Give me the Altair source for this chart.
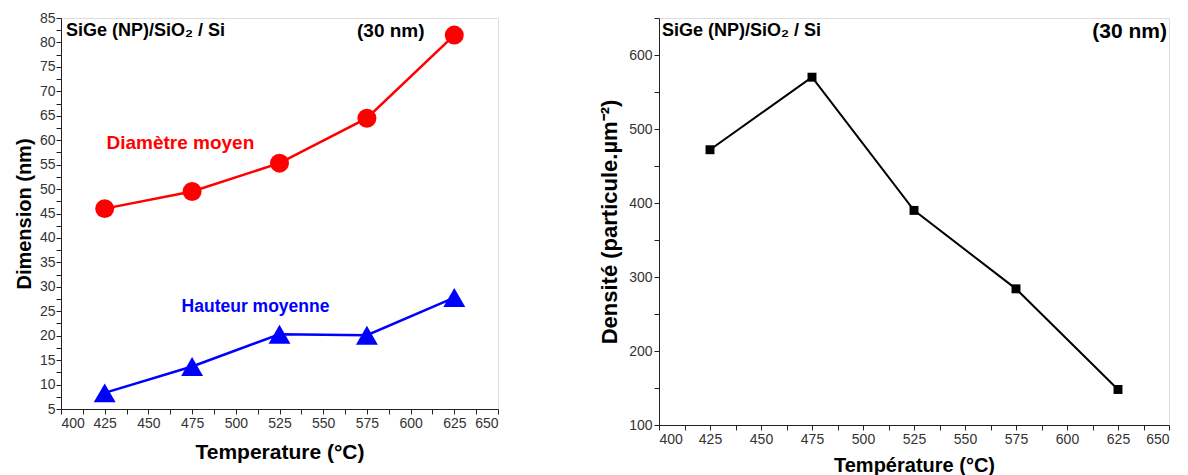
import altair as alt
import pandas as pd

temps = [425, 475, 525, 575, 625]
diametre = [46.0, 49.5, 55.3, 64.5, 81.5]
hauteur = [8.3, 13.7, 20.3, 20.1, 27.8]
densite = [472, 570, 390, 284, 148]

FONT = "Liberation Sans"

left_df = pd.DataFrame({
    "T": temps * 2,
    "v": diametre + hauteur,
    "serie": ["Diamètre moyen"] * 5 + ["Hauteur moyenne"] * 5,
})
right_df = pd.DataFrame({"T": temps, "d": densite})

xticks = [400 + 12.5 * i for i in range(21)]
ly_ticks = [5 + 2.5 * i for i in range(33)]
ry_ticks = [100 + 50 * i for i in range(12)]

def xaxis(title, tsize, tpad):
    return alt.Axis(values=xticks, labelExpr="datum.value % 25 == 0 ? datum.label : ''",
                    title=title, titleFontSize=tsize, titleFontWeight="bold",
                    titleFont=FONT, labelFont=FONT, labelFontSize=14, labelColor="#333",
                    tickSize=5, labelPadding=2, titlePadding=tpad, grid=False, labelOverlap=False,
                    domainColor="#222", tickColor="#222", titleColor="#000")

xs_left = alt.X("T:Q", scale=alt.Scale(domain=[400, 650], nice=False),
                axis=xaxis("Temperature (°C)", 21, 11))
ys_left = alt.Y("v:Q", scale=alt.Scale(domain=[5, 85], nice=False),
                axis=alt.Axis(values=ly_ticks, labelExpr="datum.value % 5 == 0 ? datum.label : ''",
                              title="Dimension (nm)", titleFontSize=20, titleFontWeight="bold",
                              titleFont=FONT, labelFont=FONT, labelFontSize=14, labelColor="#333",
                              tickSize=5, labelPadding=1, titlePadding=5, grid=False, labelOverlap=False,
                              domainColor="#222", tickColor="#222", titleColor="#000"))
dom = ["Diamètre moyen", "Hauteur moyenne"]
color = alt.Color("serie:N", scale=alt.Scale(domain=dom, range=["#ff0000", "#0000ff"]), legend=None)
shape = alt.Shape("serie:N", scale=alt.Scale(domain=dom, range=["circle", "triangle-up"]), legend=None)
size = alt.Size("serie:N", scale=alt.Scale(domain=dom, range=[360, 480]), legend=None)

base_l = alt.Chart(left_df)
l_line = base_l.mark_line(strokeWidth=2.5).encode(x=xs_left, y=ys_left, color=color, detail="serie:N")
l_pts = base_l.mark_point(filled=True, opacity=1).encode(x=xs_left, y=ys_left, color=color, shape=shape, size=size)

lab_df = pd.DataFrame({"serie": dom, "T": [426, 469], "v": [59.4, 25.9], "fs": [19, 17.5]})
l_labels = alt.Chart(lab_df).mark_text(align="left", baseline="middle", fontWeight="bold",
                                        font=FONT).encode(
    x=xs_left, y=ys_left, text="serie:N", color=color,
    size=alt.Size("fs:Q", scale=None, legend=None))

l_t1 = alt.Chart(pd.DataFrame({"t": ["SiGe (NP)/SiO₂ / Si"]})).mark_text(
    align="left", baseline="middle", fontWeight="bold", fontSize=18, font=FONT, color="#000").encode(
    x=alt.value(5), y=alt.value(13), text="t:N")
l_t2 = alt.Chart(pd.DataFrame({"t": ["(30 nm)"]})).mark_text(
    align="left", baseline="middle", fontWeight="bold", fontSize=19, font=FONT, color="#000").encode(
    x=alt.value(296), y=alt.value(13), text="t:N")

left = alt.layer(l_line, l_pts, l_labels, l_t1, l_t2).properties(width=437, height=391)

xs_right = alt.X("T:Q", scale=alt.Scale(domain=[400, 650], nice=False),
                 axis=xaxis("Température (°C)", 20, 9))
ys_right = alt.Y("d:Q", scale=alt.Scale(domain=[100, 650], nice=False),
                 axis=alt.Axis(values=ry_ticks, labelExpr="datum.value % 100 == 0 ? datum.label : ''",
                               title="Densité (particule.µm⁻²)", titleFontSize=22, titleFontWeight="bold",
                               titleFont=FONT, labelFont=FONT, labelFontSize=14, labelColor="#333",
                               tickSize=5, labelPadding=2, titlePadding=7, grid=False, labelOverlap=False,
                               domainColor="#222", tickColor="#222", titleColor="#000"))
base_r = alt.Chart(right_df)
r_line = base_r.mark_line(strokeWidth=2, color="#000").encode(x=xs_right, y=ys_right)
r_pts = base_r.mark_point(filled=True, shape="square", size=80, opacity=1, color="#000").encode(x=xs_right, y=ys_right)
r_t1 = alt.Chart(pd.DataFrame({"t": ["SiGe (NP)/SiO₂ / Si"]})).mark_text(
    align="left", baseline="middle", fontWeight="bold", fontSize=18, font=FONT, color="#000").encode(
    x=alt.value(3), y=alt.value(13), text="t:N")
r_t2 = alt.Chart(pd.DataFrame({"t": ["(30 nm)"]})).mark_text(
    align="right", baseline="middle", fontWeight="bold", fontSize=21, font=FONT, color="#000").encode(
    x=alt.value(508), y=alt.value(14), text="t:N")

right = alt.layer(r_line, r_pts, r_t1, r_t2).properties(width=510, height=407)

chart = alt.hconcat(left, right, spacing=99).properties(
    padding={"left": 5, "top": 2, "right": 2, "bottom": 0}
).configure_view(stroke="#222", strokeWidth=1.2).configure_axis(labelOverlap=False).configure(background="white")

chart.save("out.html", embed_options={"renderer": "svg", "actions": False})
